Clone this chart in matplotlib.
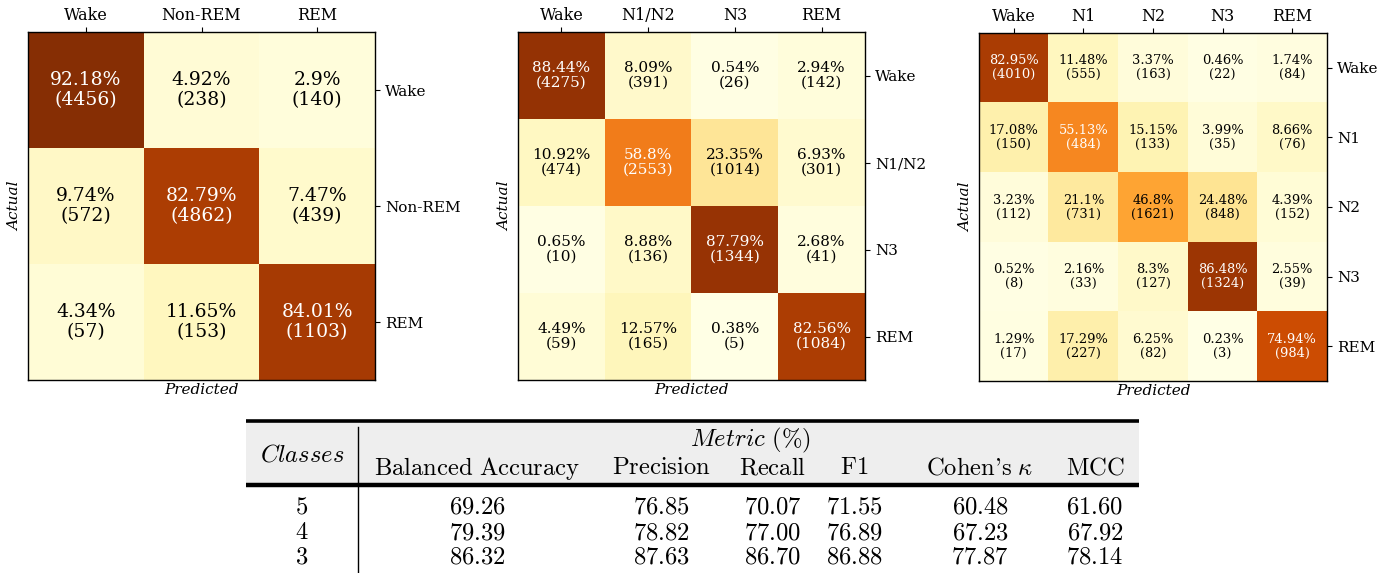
import numpy as np
import matplotlib
matplotlib.use("Agg")
import matplotlib.pyplot as plt
from matplotlib.patches import Rectangle

plt.rcParams['mathtext.fontset'] = 'cm'

# ---------------- data ----------------
labels_3 = ["Wake", "Non-REM", "REM"]
pct_3 = [[92.18, 4.92, 2.9],
         [9.74, 82.79, 7.47],
         [4.34, 11.65, 84.01]]
cnt_3 = [[4456, 238, 140],
         [572, 4862, 439],
         [57, 153, 1103]]

labels_4 = ["Wake", "N1/N2", "N3", "REM"]
pct_4 = [[88.44, 8.09, 0.54, 2.94],
         [10.92, 58.8, 23.35, 6.93],
         [0.65, 8.88, 87.79, 2.68],
         [4.49, 12.57, 0.38, 82.56]]
cnt_4 = [[4275, 391, 26, 142],
         [474, 2553, 1014, 301],
         [10, 136, 1344, 41],
         [59, 165, 5, 1084]]

labels_5 = ["Wake", "N1", "N2", "N3", "REM"]
pct_5 = [[82.95, 11.48, 3.37, 0.46, 1.74],
         [17.08, 55.13, 15.15, 3.99, 8.66],
         [3.23, 21.1, 46.8, 24.48, 4.39],
         [0.52, 2.16, 8.3, 86.48, 2.55],
         [1.29, 17.29, 6.25, 0.23, 74.94]]
cnt_5 = [[4010, 555, 163, 22, 84],
         [150, 484, 133, 35, 76],
         [112, 731, 1621, 848, 152],
         [8, 33, 127, 1324, 39],
         [17, 227, 82, 3, 984]]

table_classes = ["5", "4", "3"]
table_metrics = ["Balanced Accuracy", "Precision", "Recall", "F1", "Cohen's κ", "MCC"]
table_values = [[69.26, 76.85, 70.07, 71.55, 60.48, 61.60],
                [79.39, 78.82, 77.00, 76.89, 67.23, 67.92],
                [86.32, 87.63, 86.70, 86.88, 77.87, 78.14]]

# ---------------- figure ----------------
W, H = 1393, 573
fig = plt.figure(figsize=(W / 100, H / 100), dpi=100)


def px_axes(left, top, right, bottom):
    return fig.add_axes([left / W, 1 - bottom / H, (right - left) / W, (bottom - top) / H])


def draw_cm(ax, pct, cnt, labels, fs):
    arr = np.array(pct)
    n = len(labels)
    ax.imshow(arr, cmap='YlOrBr', vmin=0, vmax=100, aspect='auto', interpolation='nearest')
    for i in range(n):
        for j in range(n):
            v = pct[i][j]
            col = 'white' if v > 50 else 'black'
            ax.text(j, i, f"{v}%\n({cnt[i][j]})", ha='center', va='center',
                    color=col, fontsize=fs, family='DejaVu Serif', linespacing=1.1)
    ax.set_xticks(range(n))
    ax.set_yticks(range(n))
    ax.xaxis.tick_top()
    ax.yaxis.tick_right()
    ax.set_xticklabels(labels, fontsize=11.5, family='DejaVu Serif')
    ax.set_yticklabels(labels, fontsize=11, family='DejaVu Serif')
    ax.tick_params(axis='x', pad=2)
    ax.tick_params(axis='y', pad=4)
    ax.set_xlabel("Predicted", fontsize=11, family='DejaVu Serif', style='italic', labelpad=2)
    ax.xaxis.set_label_position('bottom')
    ax.set_ylabel("Actual", fontsize=11, family='DejaVu Serif', style='italic', labelpad=4)
    ax.yaxis.set_label_position('left')
    for s in ax.spines.values():
        s.set_linewidth(1.0)


ax1 = px_axes(28, 32, 375, 380)
draw_cm(ax1, pct_3, cnt_3, labels_3, 13.5)
ax2 = px_axes(518, 32, 865, 380)
draw_cm(ax2, pct_4, cnt_4, labels_4, 11)
ax3 = px_axes(979, 33, 1327, 381)
draw_cm(ax3, pct_5, cnt_5, labels_5, 9.4)

# ---------------- table ----------------
axt = fig.add_axes([0, 0, 1, 1])
axt.set_xlim(0, W)
axt.set_ylim(H, 0)
axt.axis('off')
axt.patch.set_alpha(0)

t_left, t_right = 246, 1139
t_top, t_hdr = 421, 485
vx = 358
axt.add_patch(Rectangle((t_left, t_top), t_right - t_left, t_hdr - t_top,
                        facecolor='#eeeeee', edgecolor='none', zorder=0))
axt.plot([t_left, t_right], [t_top, t_top], color='black', lw=2.6, solid_capstyle='butt')
axt.plot([t_left, t_right], [t_hdr, t_hdr], color='black', lw=3.2, solid_capstyle='butt')
axt.plot([vx, vx], [t_top + 6, H], color='black', lw=1.0)

tfs = 17.7
col_x = [477, 661, 773, 854, 980, 1095]
axt.text(302, 455, r"$\mathit{Classes}$", ha='center', va='center', fontsize=tfs)
axt.text(750, 440, r"$\mathit{Metric}\ (\mathit{\%})$", ha='center', va='center', fontsize=tfs)


def to_label(s):
    if s == "Cohen's κ":
        return "Cohen's" + r"$\ \kappa$"
    return "$\\mathrm{" + s.replace(" ", "\\ ") + "}$"


for x, m in zip(col_x, table_metrics):
    axt.text(x, 468, to_label(m), ha='center', va='center', fontsize=tfs,
             family='cmr10')
row_y = [506, 532, 557]
for y, c, vals in zip(row_y, table_classes, table_values):
    axt.text(302, y, f"${c}$", ha='center', va='center', fontsize=tfs)
    for x, v in zip(col_x, vals):
        axt.text(x, y, f"${v:.2f}$", ha='center', va='center', fontsize=tfs)

fig.savefig("out.png", dpi=100)
